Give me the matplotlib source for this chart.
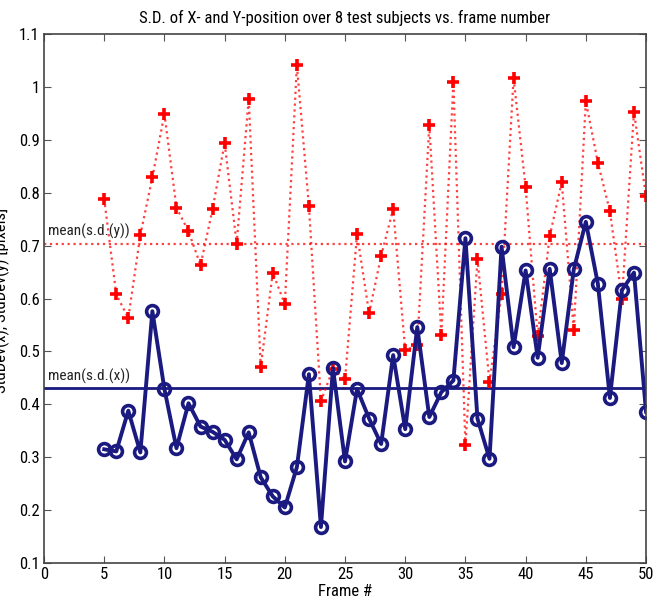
"""
S.D. of X- and Y-position over 8 test subjects vs. frame number.
MATLAB-style line plot: red dotted '+' for y, navy solid 'o' for x.
"""
import matplotlib
matplotlib.use("Agg")
import matplotlib.pyplot as plt
from matplotlib import font_manager
from matplotlib.ticker import FormatStrFormatter

# ---- Data ----
frames = list(range(5, 51))

sd_y = [0.788, 0.608, 0.563, 0.720, 0.829, 0.949, 0.772, 0.727, 0.663, 0.769,
        0.894, 0.704, 0.978, 0.471, 0.649, 0.589, 1.041, 0.775, 0.406, 0.467,
        0.447, 0.722, 0.572, 0.681, 0.769, 0.502, 0.512, 0.928, 0.531, 1.009,
        0.323, 0.675, 0.442, 0.609, 1.017, 0.810, 0.529, 0.718, 0.820, 0.540,
        0.973, 0.857, 0.765, 0.600, 0.953, 0.793]

sd_x = [0.315, 0.311, 0.388, 0.309, 0.576, 0.429, 0.317, 0.402, 0.358, 0.348,
        0.333, 0.296, 0.347, 0.262, 0.226, 0.205, 0.281, 0.457, 0.168, 0.468,
        0.292, 0.429, 0.373, 0.325, 0.493, 0.353, 0.546, 0.376, 0.423, 0.445,
        0.714, 0.373, 0.297, 0.698, 0.508, 0.653, 0.488, 0.656, 0.478, 0.655,
        0.745, 0.628, 0.412, 0.616, 0.649, 0.386]

mean_y = 0.704
mean_x = 0.430

# ---- Style ----
RED = "#ff0000"
NAVY = "#1a1a80"


def pick_font():
    """Prefer a condensed sans (closer to the MATLAB export look)."""
    names = {f.name for f in font_manager.fontManager.ttflist}
    for cand in ["Liberation Sans Narrow", "DejaVu Sans Condensed",
                 "Roboto Condensed", "Open Sans Condensed"]:
        if cand in names:
            return cand, None
    # fall back: Roboto / Liberation Sans with condensed stretch if present
    for f in font_manager.fontManager.ttflist:
        if "Condensed" in f.fname or "Narrow" in f.fname:
            return f.name, f.stretch
    return "Liberation Sans", None


def main():
    fam, stretch = pick_font()
    plt.rcParams["font.family"] = [fam, "DejaVu Sans"]
    if stretch is not None:
        plt.rcParams["font.stretch"] = stretch

    fig = plt.figure(figsize=(6.54, 6.01), dpi=100)
    ax = fig.add_axes([0.0673, 0.0632, 0.9205, 0.8802])

    # mean lines (full width)
    ax.plot([0, 50], [mean_y, mean_y], linestyle=":", color=RED,
            linewidth=1.6, alpha=0.75)
    ax.plot([0, 50], [mean_x, mean_x], linestyle="-", color=NAVY,
            linewidth=2.0)

    # series
    ax.plot(frames, sd_y, linestyle=":", color=RED, linewidth=1.6,
            alpha=0.75)
    ax.plot(frames, sd_y, linestyle="none", marker="+", color=RED,
            markersize=9, markeredgewidth=2.6)
    ax.plot(frames, sd_x, linestyle="-", color=NAVY, linewidth=2.8,
            marker="o", markersize=8.5, markerfacecolor="none",
            markeredgewidth=2.6, markeredgecolor=NAVY)

    ax.text(0.3, mean_y + 0.008, "mean(s.d.(y))", fontsize=11,
            color="#222222", va="bottom", ha="left")
    ax.text(0.3, mean_x + 0.008, "mean(s.d.(x))", fontsize=11,
            color="#222222", va="bottom", ha="left")

    ax.set_xlim(0, 50)
    ax.set_ylim(0.1, 1.1)
    ax.set_xticks(range(0, 51, 5))
    ax.set_yticks([0.1 * i for i in range(1, 12)])
    ax.yaxis.set_major_formatter(FormatStrFormatter("%g"))
    ax.tick_params(direction="in", top=True, right=True, length=5,
                   width=0.8, color="#555555", labelsize=12, pad=3)
    for sp in ax.spines.values():
        sp.set_linewidth(1.2)
        sp.set_color("#444444")

    ax.set_title("S.D. of X- and Y-position over 8 test subjects vs. frame number",
                 fontsize=12, pad=8)
    ax.set_xlabel("Frame #", fontsize=12, labelpad=1)

    # y label sits half off the left edge, as in the original export
    fig.text(0.0, 0.5, "StdDev(x), StdDev(y) [pixels]", rotation=90,
             ha="center", va="center", fontsize=12)

    fig.savefig("out.png", dpi=100, facecolor="white")
    plt.close(fig)


if __name__ == "__main__":
    main()
